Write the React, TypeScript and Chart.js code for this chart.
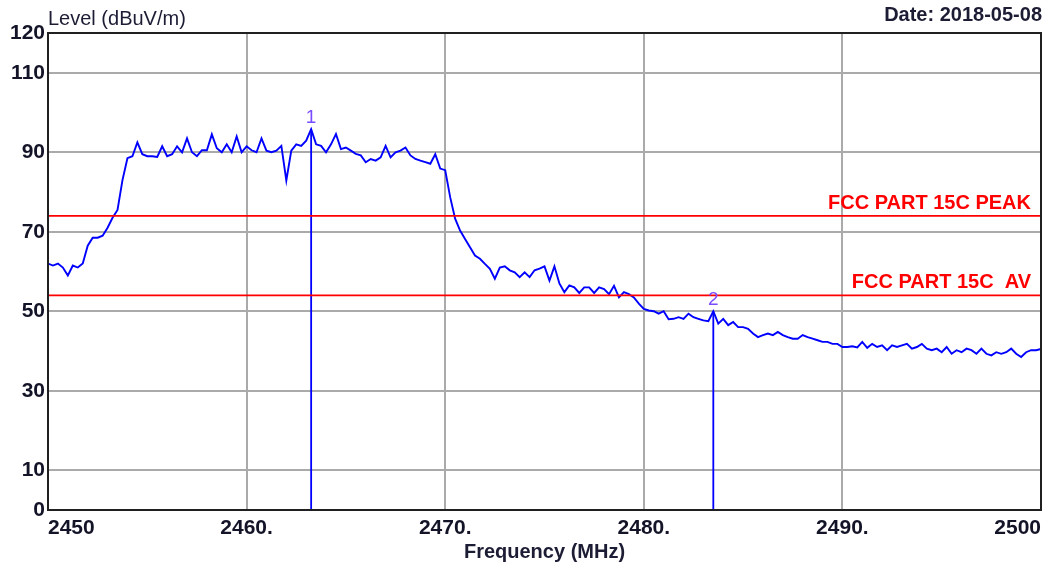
import React, { useEffect, useRef } from "react";
import { Chart, registerables } from "chart.js";

Chart.register(...registerables);

// ---- data ----
const FREQ_START = 2450;
const FREQ_STEP = 0.25;
const LEVELS = [
  62, 61.5, 62, 61, 59, 61.5, 61, 62, 66.5, 68.5, 68.5, 69, 71, 73.5, 75.5, 83,
  88.5, 89, 92.5, 89.5, 89, 89, 88.8, 91.5, 89, 89.5, 91.5, 90, 93.5, 90, 89, 90.5,
  90.5, 94.5, 91, 90, 92, 90, 94, 90, 91.5, 90.5, 90, 93.5, 90.4, 90, 90.4, 91.6,
  82.9, 90.4, 92, 91.6, 92.9, 95.8, 92, 91.6, 90, 92, 94.6, 90.8, 91.2, 90.4, 89.6, 89.2,
  87.5, 88.3, 87.9, 88.7, 91.6, 88.7, 90, 90.4, 91.2, 89.2, 88.3, 87.9, 87.5, 87.1, 89.5, 85.9,
  85.5, 78.7, 73.3, 70.3, 68.2, 66.1, 64, 63.2, 61.9, 60.7, 58.2, 61, 61.3, 60.3, 59.8, 58.6,
  59.8, 58.6, 60.3, 60.7, 61.3, 57.7, 61.3, 57, 54.8, 56.5, 56, 54.6, 56, 56, 54.6, 56,
  55.6, 54.3, 56.4, 53.5, 54.8, 54.3, 53.5, 51.9, 50.6, 50.2, 50, 49.4, 50, 48, 48.1, 48.5,
  48.1, 49.4, 48.5, 48.1, 47.7, 47.5, 50, 46.9, 48.1, 46.5, 47.3, 46, 46, 45.6, 44.4, 43.5,
  44, 44.4, 44, 44.8, 44, 43.5, 43.1, 43.1, 44, 43.5, 43.1, 42.7, 42.3, 42.3, 41.8, 41.8,
  41, 41, 41.2, 40.9, 42.3, 40.8, 41.8, 41, 41.4, 40.2, 41.4, 41, 41.4, 41.8, 40.6, 41,
  41.8, 40.6, 40.2, 40.6, 39.7, 41, 39.3, 40.2, 39.7, 40.6, 40.2, 39.3, 40.6, 39.3, 38.9, 39.7,
  39.3, 39.7, 40.6, 39.3, 38.5, 39.7, 40.2, 40.2, 40.5,
];

const MARKER_FREQS = [2463.25, 2483.5];
const MARKER_LEVELS = [95.8, 50];
const MARKER_NAMES = ["1", "2"];

const LIMIT_NAMES = ["FCC PART 15C PEAK", "FCC PART 15C  AV"];
const LIMIT_LEVELS = [74, 54];

const X_TICKS = [2450, 2460, 2470, 2480, 2490, 2500];
const Y_TICKS = [0, 10, 30, 50, 70, 90, 110, 120];
const X_MIN = 2450;
const X_MAX = 2500;
const Y_MIN = 0;
const Y_MAX = 120;

const Y_TITLE = "Level (dBuV/m)";
const X_TITLE = "Frequency (MHz)";
const DATE_TEXT = "Date: 2018-05-08";

const FONT = "'Liberation Sans', Arial, Helvetica, sans-serif";

export default function App() {
  const ref = useRef<HTMLCanvasElement | null>(null);

  useEffect(() => {
    const canvas = ref.current;
    if (!canvas) return;

    const trace = LEVELS.map((v, i) => ({ x: FREQ_START + i * FREQ_STEP, y: v }));

    const datasets: any[] = [
      {
        label: "trace",
        data: trace,
        borderColor: "#0000ff",
        borderWidth: 1.9,
        pointRadius: 0,
        tension: 0,
        order: 2,
      },
    ];
    LIMIT_LEVELS.forEach((lv, i) => {
      datasets.push({
        label: LIMIT_NAMES[i],
        data: [
          { x: X_MIN, y: lv },
          { x: X_MAX, y: lv },
        ],
        borderColor: "#ff0000",
        borderWidth: 1.6,
        pointRadius: 0,
        order: 1,
      });
    });
    MARKER_FREQS.forEach((f, i) => {
      datasets.push({
        label: "M" + MARKER_NAMES[i],
        data: [
          { x: f, y: MARKER_LEVELS[i] },
          { x: f, y: Y_MIN },
        ],
        borderColor: "#0000ff",
        borderWidth: 1.8,
        pointRadius: 0,
        order: 3,
      });
    });

    const overlay = {
      id: "overlay",
      afterDraw(chart: any) {
        const { ctx, chartArea: a, scales } = chart;
        const xs = scales.x;
        const ys = scales.y;
        ctx.save();
        // frame
        ctx.strokeStyle = "#202020";
        ctx.lineWidth = 2;
        ctx.strokeRect(a.left, a.top, a.right - a.left, a.bottom - a.top);

        // titles
        ctx.fillStyle = "#1c1c34";
        ctx.textBaseline = "alphabetic";
        ctx.font = `20px ${FONT}`;
        ctx.textAlign = "left";
        ctx.fillText(Y_TITLE, a.left, 25);

        ctx.font = `bold 20px ${FONT}`;
        ctx.textAlign = "right";
        ctx.fillText(DATE_TEXT, a.right + 1, 21);

        ctx.textAlign = "center";
        ctx.fillText(X_TITLE, (a.left + a.right) / 2, 558);

        // limit labels
        ctx.fillStyle = "#ff0000";
        ctx.textAlign = "right";
        LIMIT_LEVELS.forEach((lv, i) => {
          ctx.fillText(LIMIT_NAMES[i], a.right - 10, ys.getPixelForValue(lv) - 7);
        });

        // marker labels
        ctx.fillStyle = "#7a4cff";
        ctx.font = `19px ${FONT}`;
        ctx.textAlign = "center";
        MARKER_FREQS.forEach((f, i) => {
          ctx.fillText(
            MARKER_NAMES[i],
            xs.getPixelForValue(f),
            ys.getPixelForValue(MARKER_LEVELS[i]) - 6
          );
        });
        ctx.restore();
      },
    };

    const chart = new Chart(canvas, {
      type: "line",
      data: { datasets },
      options: {
        animation: false,
        responsive: false,
        devicePixelRatio: 1,
        layout: { padding: { top: 33, right: 20, left: 0, bottom: 0 } },
        plugins: {
          legend: { display: false },
          tooltip: { enabled: false },
          title: { display: false },
        },
        scales: {
          x: {
            type: "linear",
            min: X_MIN,
            max: X_MAX,
            afterBuildTicks: (s: any) => {
              s.ticks = X_TICKS.map((v) => ({ value: v }));
            },
            afterFit: (s: any) => {
              s.height = 59;
            },
            border: { display: false },
            grid: {
              color: "#aaaaaa",
              lineWidth: 2,
              drawTicks: false,
            },
            ticks: {
              align: "inner",
              padding: 6,
              maxRotation: 0,
              autoSkip: false,
              color: "#141428",
              font: { family: FONT, size: 21, weight: "bold" },
              callback: (v: any) =>
                v === X_MIN || v === X_MAX ? String(v) : `${v}.`,
            },
          },
          y: {
            type: "linear",
            min: Y_MIN,
            max: Y_MAX,
            afterBuildTicks: (s: any) => {
              s.ticks = Y_TICKS.map((v) => ({ value: v }));
            },
            afterFit: (s: any) => {
              s.width = 48;
            },
            border: { display: false },
            grid: {
              color: "#aaaaaa",
              lineWidth: 2,
              drawTicks: false,
            },
            ticks: {
              padding: 3,
              autoSkip: false,
              color: "#141428",
              font: { family: FONT, size: 21, weight: "bold" },
              callback: (v: any) => String(v),
            },
          },
        },
      } as any,
      plugins: [overlay],
    });

    return () => chart.destroy();
  }, []);

  return (
    <div
      style={{
        position: "absolute",
        left: 0,
        top: 0,
        width: 1061,
        height: 569,
        background: "#ffffff",
      }}
    >
      <canvas ref={ref} width={1061} height={569} />
    </div>
  );
}
